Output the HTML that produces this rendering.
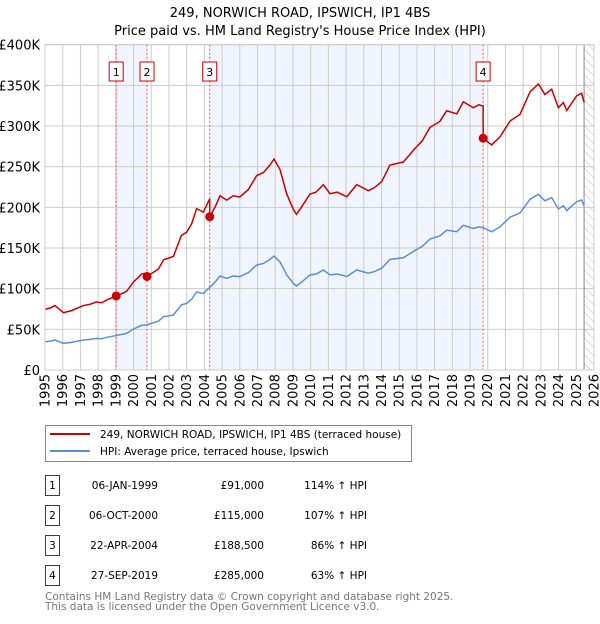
<!DOCTYPE html>
<html><head><meta charset="utf-8"><style>
body{margin:0;background:#fff;font-family:"DejaVu Sans","Liberation Sans",sans-serif;}
svg text{font-family:"DejaVu Sans","Liberation Sans",sans-serif;}
</style></head><body>
<svg id="chart" width="600" height="620" viewBox="0 0 600 620" xmlns="http://www.w3.org/2000/svg">
<defs><pattern id="hatch" width="6" height="6" patternUnits="userSpaceOnUse" patternTransform="rotate(-45)"><line x1="0" y1="0" x2="0" y2="6" stroke="#bbb" stroke-width="1"/></pattern></defs>
<text x="300" y="17" text-anchor="middle" font-size="13" fill="#000">249, NORWICH ROAD, IPSWICH, IP1 4BS</text>
<text x="300" y="35" text-anchor="middle" font-size="13" fill="#000">Price paid vs. HM Land Registry's House Price Index (HPI)</text>
<g id="plot"></g>
<g>
<rect x="45.5" y="425.5" width="366" height="36" fill="#fff" stroke="#888"/>
<line x1="50" y1="434" x2="90" y2="434" stroke="#cc0000" stroke-width="2"/>
<text x="100" y="438" font-size="10.5">249, NORWICH ROAD, IPSWICH, IP1 4BS (terraced house)</text>
<line x1="50" y1="451" x2="90" y2="451" stroke="#5b8fd4" stroke-width="2"/>
<text x="100" y="455" font-size="10.5">HPI: Average price, terraced house, Ipswich</text>
</g>
<g id="table"></g>
<text x="45" y="600" font-size="10.5" fill="#777">Contains HM Land Registry data © Crown copyright and database right 2025.</text>
<text x="45" y="610" font-size="10.5" fill="#777">This data is licensed under the Open Government Licence v3.0.</text>
</svg>
<script>
const hpiYears=[1995.0,1995.3,1995.56,1996.04,1996.5,1997.16,1997.5,1997.9,1998.2,1998.5,1999.05,1999.6,2000.0,2000.46,2000.74,2001.1,2001.4,2001.7,2002.25,2002.7,2003.0,2003.28,2003.56,2003.94,2004.28,2004.6,2004.88,2005.26,2005.63,2006.0,2006.48,2006.95,2007.33,2007.7,2007.93,2008.27,2008.65,2009.02,2009.2,2009.4,2009.7,2009.96,2010.3,2010.72,2011.09,2011.5,2012.04,2012.6,2013.26,2013.6,2014.01,2014.48,2015.23,2015.6,2015.89,2016.3,2016.74,2017.3,2017.68,2018.25,2018.62,2019.19,2019.5,2019.74,2020.22,2020.69,2021.26,2021.82,2022.39,2022.86,2023.23,2023.61,2023.99,2024.27,2024.46,2025.02,2025.3,2025.44];
const hpiValues=[34.8,35.5,36.9,32.8,34,36.9,37.5,38.9,38.5,40.2,42.5,45,50.4,55,55.5,58,60,65.6,67.6,80,82,87,96,94,101.3,108,115.6,112.7,115.6,114.8,119.7,129,131,136,140,133,116.8,106.6,103.3,106.6,112,116.8,118,123,117,118,115,123,119,121,125,136,138,143,147,152,161,165,172,170,178,174,176,175,170,176,188,193,210,216,208,212,198,202,196,207,209,202];
const saleYears=[1999.02,2000.76,2004.3,2019.74];
const salePrices=[91,115,188.5,285];
const saleLabels=["1","2","3","4"];
const saleDates=["06-JAN-1999","06-OCT-2000","22-APR-2004","27-SEP-2019"];
const salePriceText=["£91,000","£115,000","£188,500","£285,000"];
const saleHpiText=["114% ↑ HPI","107% ↑ HPI","86% ↑ HPI","63% ↑ HPI"];
const yTicks=[0,50,100,150,200,250,300,350,400];
const yTickLabels=["£0","£50K","£100K","£150K","£200K","£250K","£300K","£350K","£400K"];
const xTicks=[1995,1996,1997,1998,1999,2000,2001,2002,2003,2004,2005,2006,2007,2008,2009,2010,2011,2012,2013,2014,2015,2016,2017,2018,2019,2020,2021,2022,2023,2024,2025,2026];

const NS="http://www.w3.org/2000/svg";
const X0=45,X1=594,Y0=44.7,Y1=370;
const xs=y=>X0+(y-1995)/(2026-1995)*(X1-X0);
const ys=v=>Y1-v/400*(Y1-Y0);
const plot=document.getElementById('plot');
function mk(tag,attrs,parent){const e=document.createElementNS(NS,tag);for(const k in attrs)e.setAttribute(k,attrs[k]);(parent||plot).appendChild(e);return e;}
function hpiAt(t){if(t<=hpiYears[0])return hpiValues[0];for(let i=1;i<hpiYears.length;i++){if(t<=hpiYears[i]){const f=(t-hpiYears[i-1])/(hpiYears[i]-hpiYears[i-1]);return hpiValues[i-1]+f*(hpiValues[i]-hpiValues[i-1]);}}return hpiValues[hpiValues.length-1];}

let bg=mk('rect',{x:X0,y:Y0,width:X1-X0,height:Y1-Y0,fill:'#fff'});


for(let i=0;i<saleYears.length;i+=2){
  const a=xs(saleYears[i]);const b=i+1<saleYears.length?xs(saleYears[i+1]):X1;
  const r=mk('rect',{x:a,y:Y0,width:b-a,height:Y1-Y0,fill:'#f0f4fd'});
  
  
}
const hx=xs(2025.44);
const hr=mk('rect',{x:hx,y:Y0,width:X1-hx,height:Y1-Y0,fill:'url(#hatch)'});


xTicks.forEach((t,i)=>{
  const l=mk('line',{x1:xs(t),x2:xs(t),y1:Y0,y2:Y1,stroke:'#ccc','stroke-width':1});
  
  
  const tx=mk('text',{x:0,y:0,'font-size':13,'text-anchor':'end',transform:`translate(${xs(t)+4.5},374) rotate(-90)`});
  tx.textContent=t;
  
  
});
yTicks.forEach((t,i)=>{
  const l=mk('line',{x1:X0,x2:X1,y1:ys(t),y2:ys(t),stroke:'#ccc','stroke-width':1});
  
  
  const tx=mk('text',{x:40,y:ys(t)+5,'font-size':13,'text-anchor':'end'});
  tx.textContent=yTickLabels[i];
  
  
});
const hl=mk('line',{x1:hx,x2:hx,y1:Y0,y2:Y1,stroke:'#888','stroke-width':1});


saleYears.forEach((s,i)=>{
  const l=mk('line',{x1:xs(s),x2:xs(s),y1:Y0,y2:Y1,stroke:'#f05050','stroke-width':1,'stroke-dasharray':'2,2'});
  
  
});
const hp=mk('polyline',{points:hpiYears.map((t,i)=>xs(t)+','+ys(hpiValues[i])).join(' '),fill:'none',stroke:'#5b8fd4','stroke-width':1.5});


function factorAt(t){let k=0;for(let i=0;i<saleYears.length;i++)if(t>=saleYears[i])k=i;return salePrices[k]/hpiAt(saleYears[k]);}
let pts=[];
const times=hpiYears.concat(saleYears).sort((a,b)=>a-b);
times.forEach(t=>{
  const si=saleYears.indexOf(t);
  if(si>0){const fp=salePrices[si-1]/hpiAt(saleYears[si-1]);pts.push(xs(t)+','+ys(hpiAt(t)*fp));}
  pts.push(xs(t)+','+ys(hpiAt(t)*factorAt(t)));
});
const pl=mk('polyline',{points:pts.join(' '),fill:'none',stroke:'#cc0000','stroke-width':1.5});


saleYears.forEach((s,i)=>{
  const c=mk('circle',{cx:xs(s),cy:ys(salePrices[i]),r:4.5,fill:'#cc0000'});
  
  
  const bx=xs(s);
  const r=mk('rect',{x:bx-7,y:62,width:14,height:19,fill:'#fff',stroke:'#cc0000'});
  
  
  const tx=mk('text',{x:bx,y:76,'font-size':11,'text-anchor':'middle'});
  tx.textContent=saleLabels[i];
  
  
});
const frame=mk('rect',{x:X0,y:Y0,width:X1-X0,height:Y1-Y0,fill:'none',stroke:'#ccc'});


const tb=document.getElementById('table');
saleYears.forEach((s,i)=>{
  const y=475+i*30;
  const r=mk('rect',{x:45.5,y:y+0.5,width:14,height:20,fill:'#fff',stroke:'#cc0000'},tb);
  
  
  const n=mk('text',{x:52.5,y:y+14,'font-size':10.5,'text-anchor':'middle'},tb);n.textContent=saleLabels[i];
  
  
  const d=mk('text',{x:158,y:y+14,'font-size':10.5,'text-anchor':'end'},tb);d.textContent=saleDates[i];
  
  
  const p=mk('text',{x:264,y:y+14,'font-size':10.5,'text-anchor':'end'},tb);p.textContent=salePriceText[i];
  
  
  const h=mk('text',{x:367,y:y+14,'font-size':10.5,'text-anchor':'end'},tb);h.textContent=saleHpiText[i];
  
  
});
</script>
</body></html>
